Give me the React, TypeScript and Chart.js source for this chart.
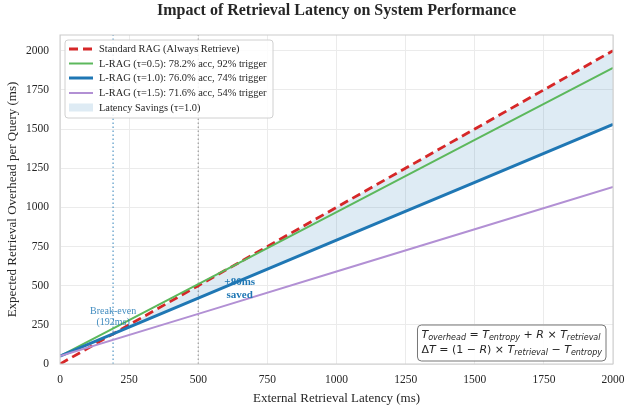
import React, { useEffect, useRef } from "react";
import { Chart, registerables } from "chart.js";

Chart.register(...registerables);

const latency = [0, 500, 1000, 1500, 2000];
const standardRag = [0, 500, 1000, 1500, 2000];
const lragTau05 = [50, 510, 970, 1430, 1890];
const lragTau10 = [50, 420, 790, 1160, 1530];
const lragTau15 = [50, 320, 590, 860, 1130];
const breakEvenX = 192;
const refLatencyX = 500;
const xTicks = [0, 250, 500, 750, 1000, 1250, 1500, 1750, 2000];
const yTicks = [0, 250, 500, 750, 1000, 1250, 1500, 1750, 2000];
const legendLabels = [
  "Standard RAG (Always Retrieve)",
  "L-RAG (\u03c4=0.5): 78.2% acc, 92% trigger",
  "L-RAG (\u03c4=1.0): 76.0% acc, 74% trigger",
  "L-RAG (\u03c4=1.5): 71.6% acc, 54% trigger",
  "Latency Savings (\u03c4=1.0)",
];

const SERIF = "'Liberation Serif', 'DejaVu Serif', serif";
const SANS = "'DejaVu Sans', sans-serif";
const RED = "#d62728";
const GREEN = "#5cb85c";
const BLUE = "#1f77b4";
const PURPLE = "#b290d4";
const FILL = "rgba(31,119,180,0.15)";

const pts = (ys: number[]) => latency.map((x, i) => ({ x, y: ys[i] }));

type Seg = { t: string; f: string; dy?: number };

const drawSegs = (ctx: CanvasRenderingContext2D, segs: Seg[], x: number, y: number) => {
  let cx = x;
  for (const s of segs) {
    ctx.font = s.f;
    ctx.fillText(s.t, cx, y + (s.dy || 0));
    cx += ctx.measureText(s.t).width;
  }
};
const segsWidth = (ctx: CanvasRenderingContext2D, segs: Seg[]) => {
  let w = 0;
  for (const s of segs) {
    ctx.font = s.f;
    w += ctx.measureText(s.t).width;
  }
  return w;
};

const overlayPlugin = {
  id: "overlay",
  beforeDraw(chart: any) {
    const { ctx } = chart;
    ctx.save();
    ctx.fillStyle = "#ffffff";
    ctx.fillRect(0, 0, chart.width, chart.height);
    ctx.restore();
  },
  afterDraw(chart: any) {
    const { ctx, chartArea: a, scales } = chart;
    const xs = scales.x;
    const ys = scales.y;
    ctx.save();
    // frame
    ctx.strokeStyle = "#cccccc";
    ctx.lineWidth = 1;
    ctx.strokeRect(a.left, a.top, a.right - a.left, a.bottom - a.top);

    // title
    ctx.fillStyle = "#262626";
    ctx.font = `bold 16px ${SERIF}`;
    ctx.textAlign = "center";
    ctx.textBaseline = "middle";
    ctx.fillText("Impact of Retrieval Latency on System Performance", (a.left + a.right) / 2, 11);

    // annotations
    const bx = xs.getPixelForValue(breakEvenX);
    const by = ys.getPixelForValue(300);
    ctx.fillStyle = "rgba(31,119,180,0.85)";
    ctx.font = `10px ${SERIF}`;
    ctx.fillText("Break-even", bx, by - 5.5);
    ctx.fillText(`(${breakEvenX}ms)`, bx, by + 5.5);

    const sx = xs.getPixelForValue(650);
    const sy = ys.getPixelForValue(482);
    ctx.fillStyle = BLUE;
    ctx.font = `bold 11px ${SERIF}`;
    ctx.fillText("+80ms", sx, sy - 6.5);
    ctx.fillText("saved", sx, sy + 6.5);

    // legend
    const lx = a.left + 5;
    const ly = a.top + 5;
    const lw = 208;
    const lh = 78;
    ctx.beginPath();
    (ctx as any).roundRect(lx, ly, lw, lh, 3);
    ctx.fillStyle = "rgba(255,255,255,0.85)";
    ctx.fill();
    ctx.strokeStyle = "#d0d0d0";
    ctx.lineWidth = 1;
    ctx.stroke();
    const rows = [14, 28.5, 43, 58, 72.5];
    const styles = [
      { c: RED, w: 2.8, d: [9, 5] },
      { c: GREEN, w: 2, d: [] },
      { c: BLUE, w: 3, d: [] },
      { c: PURPLE, w: 2, d: [] },
    ];
    ctx.textAlign = "left";
    rows.forEach((r, i) => {
      const yy = a.top + r;
      if (i < 4) {
        const s = styles[i];
        ctx.beginPath();
        ctx.setLineDash(s.d);
        ctx.strokeStyle = s.c;
        ctx.lineWidth = s.w;
        ctx.moveTo(lx + 4, yy);
        ctx.lineTo(lx + 28, yy);
        ctx.stroke();
        ctx.setLineDash([]);
      } else {
        ctx.fillStyle = FILL;
        ctx.fillRect(lx + 4, yy - 4, 24, 8);
      }
      ctx.fillStyle = "#262626";
      ctx.font = `10.4px ${SERIF}`;
      ctx.fillText(legendLabels[i], lx + 34, yy + 0.5);
    });

    // formula box
    const main = `11px ${SANS}`;
    const it = `italic 11px ${SANS}`;
    const sub = `italic 8px ${SANS}`;
    const line1: Seg[] = [
      { t: "T", f: it }, { t: "overhead", f: sub, dy: 2.5 }, { t: " = ", f: main },
      { t: "T", f: it }, { t: "entropy", f: sub, dy: 2.5 }, { t: " + ", f: main },
      { t: "R", f: it }, { t: " \u00d7 ", f: main },
      { t: "T", f: it }, { t: "retrieval", f: sub, dy: 2.5 },
    ];
    const line2: Seg[] = [
      { t: "\u0394", f: main }, { t: "T", f: it }, { t: " = (1 \u2212 ", f: main },
      { t: "R", f: it }, { t: ") \u00d7 ", f: main },
      { t: "T", f: it }, { t: "retrieval", f: sub, dy: 2.5 }, { t: " \u2212 ", f: main },
      { t: "T", f: it }, { t: "entropy", f: sub, dy: 2.5 },
    ];
    const w = Math.max(segsWidth(ctx, line1), segsWidth(ctx, line2));
    const boxR = a.right - 7;
    const boxB = a.bottom - 3;
    const boxW = w + 8;
    const boxH = 36;
    const boxL = boxR - boxW;
    const boxT = boxB - boxH;
    ctx.beginPath();
    (ctx as any).roundRect(boxL, boxT, boxW, boxH, 4);
    ctx.fillStyle = "rgba(255,255,255,0.9)";
    ctx.fill();
    ctx.strokeStyle = "#777777";
    ctx.lineWidth = 1;
    ctx.stroke();
    ctx.fillStyle = "#262626";
    ctx.textAlign = "left";
    ctx.textBaseline = "middle";
    drawSegs(ctx, line1, boxL + 4, boxT + 10);
    drawSegs(ctx, line2, boxL + 4, boxT + 25.5);
    ctx.restore();
  },
};

export default function App() {
  const ref = useRef<HTMLCanvasElement | null>(null);
  useEffect(() => {
    document.body.style.margin = "0";
    const canvas = ref.current;
    if (!canvas) return;
    const chart = new Chart(canvas, {
      type: "line",
      data: {
        datasets: [
          {
            label: legendLabels[0],
            data: pts(standardRag),
            borderColor: RED,
            borderWidth: 2.8,
            borderDash: [9, 5],
            pointRadius: 0,
            fill: { target: 2, above: FILL, below: "rgba(0,0,0,0)" },
            order: 4,
          },
          {
            label: legendLabels[1],
            data: pts(lragTau05),
            borderColor: GREEN,
            borderWidth: 2,
            pointRadius: 0,
            fill: false,
            order: 3,
          },
          {
            label: legendLabels[2],
            data: pts(lragTau10),
            borderColor: BLUE,
            borderWidth: 3,
            pointRadius: 0,
            fill: false,
            order: 2,
          },
          {
            label: legendLabels[3],
            data: pts(lragTau15),
            borderColor: PURPLE,
            borderWidth: 2,
            pointRadius: 0,
            fill: false,
            order: 1,
          },
          {
            label: "break-even",
            data: [{ x: breakEvenX, y: 0 }, { x: breakEvenX, y: 2100 }],
            borderColor: "rgba(31,119,180,0.7)",
            borderWidth: 1.3,
            borderDash: [1.5, 2.5],
            pointRadius: 0,
            fill: false,
            order: 6,
          },
          {
            label: "ref",
            data: [{ x: refLatencyX, y: 0 }, { x: refLatencyX, y: 2100 }],
            borderColor: "rgba(128,128,128,0.7)",
            borderWidth: 1.3,
            borderDash: [1.5, 2.5],
            pointRadius: 0,
            fill: false,
            order: 5,
          },
        ],
      },
      options: {
        animation: false,
        responsive: false,
        maintainAspectRatio: false,
        layout: { padding: { left: 0, top: 35, right: 11, bottom: 0 } },
        plugins: {
          legend: { display: false },
          title: { display: false },
          tooltip: { enabled: false },
        },
        scales: {
          x: {
            type: "linear",
            min: 0,
            max: 2000,
            afterBuildTicks: (s: any) => {
              s.ticks = xTicks.map((v) => ({ value: v }));
            },
            afterFit: (s: any) => {
              s.height = 46;
              s.paddingLeft = 0;
              s.paddingRight = 0;
            },
            grid: { color: "#ebebeb", drawTicks: false },
            border: { display: false },
            ticks: {
              padding: 9,
              color: "#262626",
              font: { family: SERIF, size: 11.5 },
              maxRotation: 0,
              callback: (v: any) => String(v),
            },
            title: {
              display: true,
              text: "External Retrieval Latency (ms)",
              color: "#262626",
              font: { family: SERIF, size: 13 },
              padding: { top: 0, bottom: 4 },
            },
          },
          y: {
            type: "linear",
            min: 0,
            max: 2100,
            afterBuildTicks: (s: any) => {
              s.ticks = yTicks.map((v) => ({ value: v }));
            },
            afterFit: (s: any) => {
              s.width = 60;
              s.paddingTop = 0;
              s.paddingBottom = 0;
            },
            grid: { color: "#ebebeb", drawTicks: false },
            border: { display: false },
            ticks: {
              padding: 11,
              color: "#262626",
              font: { family: SERIF, size: 11.5 },
              callback: (v: any) => String(v),
            },
            title: {
              display: true,
              text: "Expected Retrieval Overhead per Query (ms)",
              color: "#262626",
              font: { family: SERIF, size: 13 },
              padding: { top: 5, bottom: 0 },
            },
          },
        },
      },
      plugins: [overlayPlugin],
    } as any);
    return () => chart.destroy();
  }, []);
  return (
    <div style={{ position: "absolute", left: 0, top: 0, width: 624, height: 410 }}>
      <canvas ref={ref} width={624} height={410} style={{ width: 624, height: 410 }} />
    </div>
  );
}
